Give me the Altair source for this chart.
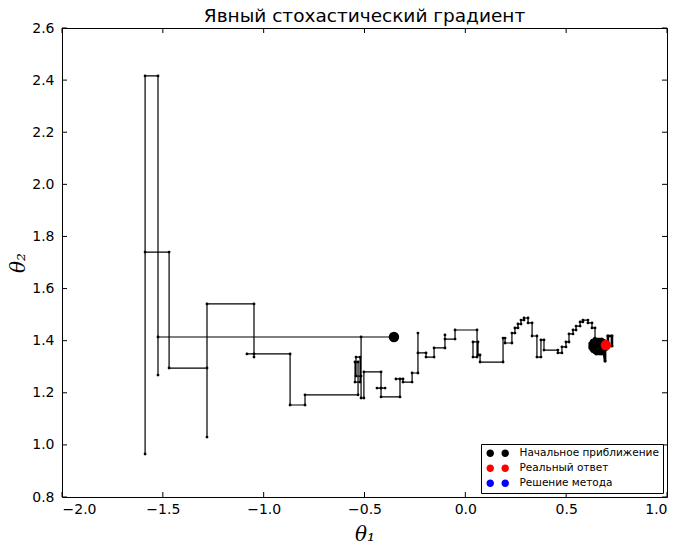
import altair as alt
import pandas as pd

# Trajectory of the method (theta1, theta2), in drawing order
path_x = [-0.354, -1.524, -1.524, -1.524, -1.588, -1.588, -1.588, -1.469, -1.469, -1.281,
          -1.281, -1.281, -1.048, -1.048, -1.048, -1.083, -0.869, -0.869, -0.795, -0.795,
          -0.532, -0.532, -0.547, -0.547, -0.522, -0.522, -0.542, -0.542, -0.517, -0.517,
          -0.517, -0.503, -0.503, -0.418, -0.418, -0.438, -0.398, -0.418, -0.418, -0.324,
          -0.324, -0.344, -0.309, -0.309, -0.264, -0.264, -0.235, -0.235, -0.235, -0.195,
          -0.195, -0.155, -0.155, -0.101, -0.101, -0.101, -0.051, -0.051, 0.058, 0.058,
          0.038, 0.038, 0.063, 0.063, 0.073, 0.073, 0.187, 0.187, 0.197, 0.197,
          0.231, 0.231, 0.246, 0.246, 0.261, 0.261, 0.276, 0.276, 0.291, 0.291,
          0.311, 0.311, 0.331, 0.331, 0.355, 0.355, 0.375, 0.375, 0.390, 0.390,
          0.459, 0.459, 0.479, 0.479, 0.499, 0.499, 0.514, 0.514, 0.534, 0.534,
          0.549, 0.549, 0.569, 0.569, 0.583, 0.583, 0.608, 0.608, 0.628, 0.628,
          0.643, 0.643,
          # dense final iterations around the optimum
          0.638, 0.678, 0.688, 0.628, 0.623, 0.693, 0.698, 0.618, 0.618, 0.698,
          0.698, 0.618, 0.618, 0.698, 0.693, 0.623, 0.628, 0.688, 0.678, 0.638,
          0.648, 0.673, 0.688, 0.693, 0.693, 0.727, 0.727, 0.707, 0.707, 0.668,
          0.668]
path_y = [1.414, 1.414, 1.268, 2.416, 2.416, 0.965, 1.740, 1.740, 1.295, 1.295,
          1.030, 1.541, 1.541, 1.337, 1.349, 1.349, 1.349, 1.153, 1.153, 1.192,
          1.192, 1.318, 1.318, 1.241, 1.241, 1.337, 1.337, 1.264, 1.264, 1.414,
          1.180, 1.180, 1.280, 1.280, 1.218, 1.218, 1.218, 1.218, 1.184, 1.184,
          1.253, 1.253, 1.253, 1.241, 1.241, 1.276, 1.276, 1.429, 1.353, 1.353,
          1.337, 1.337, 1.372, 1.372, 1.422, 1.406, 1.406, 1.441, 1.441, 1.337,
          1.337, 1.395, 1.395, 1.345, 1.345, 1.318, 1.318, 1.410, 1.410, 1.391,
          1.391, 1.429, 1.429, 1.449, 1.449, 1.464, 1.464, 1.479, 1.479, 1.487,
          1.487, 1.468, 1.468, 1.418, 1.418, 1.337, 1.337, 1.403, 1.403, 1.364,
          1.364, 1.353, 1.353, 1.376, 1.376, 1.395, 1.395, 1.426, 1.426, 1.441,
          1.441, 1.456, 1.456, 1.472, 1.472, 1.479, 1.479, 1.468, 1.468, 1.449,
          1.449, 1.410,
          1.406, 1.406, 1.401, 1.401, 1.395, 1.395, 1.389, 1.389, 1.383, 1.383,
          1.378, 1.378, 1.372, 1.372, 1.366, 1.366, 1.360, 1.360, 1.355, 1.355,
          1.349, 1.349, 1.349, 1.321, 1.380, 1.380, 1.418, 1.418, 1.372, 1.372,
          1.387]
dense_from = 111  # index where the dense cluster of final iterations starts

# Marked points
point_labels = ["Начальное приближение", "Реальный ответ", "Решение метода"]
point_x = [-0.354, 0.697, 0.658]
point_y = [1.414, 1.383, 1.380]
point_colors = ["black", "red", "blue"]

x_ticks = [-2.0, -1.5, -1.0, -0.5, 0.0, 0.5, 1.0]
y_ticks = [0.8, 1.0, 1.2, 1.4, 1.6, 1.8, 2.0, 2.2, 2.4, 2.6]

path_df = pd.DataFrame({"step": list(range(len(path_x))), "x": path_x, "y": path_y})
pts_df = pd.DataFrame({"label": point_labels, "x": point_x, "y": point_y})
xt_df = pd.DataFrame({"t": x_ticks})
yt_df = pd.DataFrame({"t": y_ticks})

xs = alt.Scale(domain=[-2.0, 1.0], nice=False, zero=False)
ys = alt.Scale(domain=[0.8, 2.6], nice=False, zero=False)

x_axis = alt.Axis(values=x_ticks, format=".1f", title="θ₁", labelPadding=5, titlePadding=8)
y_axis = alt.Axis(values=y_ticks, format=".1f", title="θ₂", labelPadding=8, titlePadding=3)

X = alt.X("x:Q", scale=xs, axis=x_axis)
Y = alt.Y("y:Q", scale=ys, axis=y_axis)

two_dots = "M -1 0 A 1 1 0 1 0 1 0 A 1 1 0 1 0 -1 0 Z M 3 0 A 1 1 0 1 0 5 0 A 1 1 0 1 0 3 0 Z"
legend = alt.Legend(
    title=None, orient="bottom-right", offset=4, symbolType=two_dots, symbolSize=56,
    symbolStrokeWidth=0, symbolOpacity=1, labelFont="DejaVu Sans", labelFontSize=10.5,
    labelColor="black", padding=4, rowPadding=4, labelOffset=24,
    strokeColor="black", fillColor="white", cornerRadius=0,
)
color = alt.Color("label:N", scale=alt.Scale(domain=point_labels, range=point_colors), legend=legend)

blue_layer = alt.Chart(pts_df).transform_filter(
    alt.datum.label == "Решение метода"
).mark_circle(size=90, opacity=1).encode(x=X, y=Y, color=color)

path_line = alt.Chart(path_df).mark_line(color="black", strokeWidth=1.2).encode(
    x=X, y=Y, order="step:Q"
)
dense_line = alt.Chart(path_df).transform_filter(
    alt.datum.step >= dense_from
).mark_line(color="black", strokeWidth=2.6).encode(x=X, y=Y, order="step:Q")
path_pts = alt.Chart(path_df).mark_circle(color="black", size=8, opacity=1).encode(x=X, y=Y)

dots = alt.Chart(pts_df).transform_filter(
    alt.datum.label != "Решение метода"
).mark_circle(size=110, opacity=1).encode(x=X, y=Y, color=color)

tick_len = 5
bottom_ticks = alt.Chart(xt_df).mark_tick(orient="vertical", size=tick_len, thickness=1, color="black", opacity=1, yOffset=-2.5).encode(
    x=alt.X("t:Q", scale=xs), y=alt.datum(0.8))
top_ticks = alt.Chart(xt_df).mark_tick(orient="vertical", size=tick_len, thickness=1, color="black", opacity=1, yOffset=2.5).encode(
    x=alt.X("t:Q", scale=xs), y=alt.datum(2.6))
left_ticks = alt.Chart(yt_df).mark_tick(orient="horizontal", size=tick_len, thickness=1, color="black", opacity=1, xOffset=2.5).encode(
    y=alt.Y("t:Q", scale=ys), x=alt.datum(-2.0))
right_ticks = alt.Chart(yt_df).mark_tick(orient="horizontal", size=tick_len, thickness=1, color="black", opacity=1, xOffset=-2.5).encode(
    y=alt.Y("t:Q", scale=ys), x=alt.datum(1.0))

chart = alt.layer(
    blue_layer, path_line, dense_line, path_pts, dots,
    bottom_ticks, top_ticks, left_ticks, right_ticks
).properties(
    width=605, height=469,
    padding={"left": 62, "top": 28, "right": 17, "bottom": 49},
    autosize=alt.AutoSizeParams(type="none"),
    title=alt.Title("Явный стохастический градиент", font="DejaVu Sans", fontSize=18.5,
                    fontWeight="normal", color="black", offset=6, dy=10),
).configure_view(
    stroke="black", strokeWidth=1
).configure_axis(
    domain=False, ticks=False, grid=False, tickSize=0,
    labelFont="DejaVu Sans", labelFontSize=14, labelColor="black",
    titleFont="DejaVu Serif", titleFontStyle="italic", titleFontWeight="normal",
    titleFontSize=20, titleColor="black",
)

chart.save("out.html", embed_options={"renderer": "svg", "actions": False})
